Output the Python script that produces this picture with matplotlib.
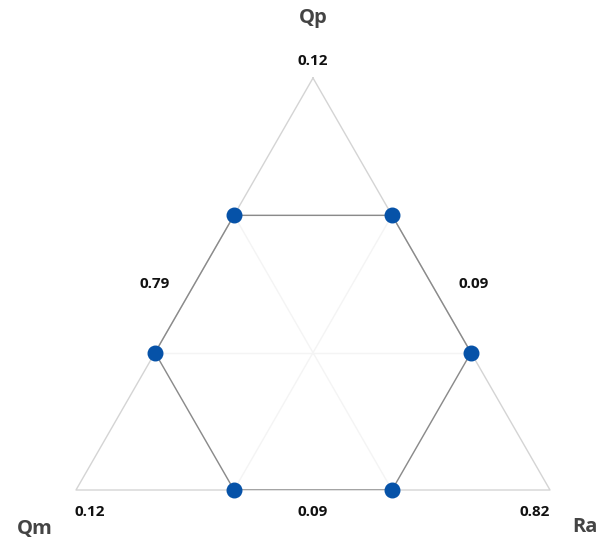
import numpy as np
import matplotlib.pyplot as plt

plt.rcParams['font.family'] = ['Open Sans', 'DejaVu Sans']

# ternary axes (vertex order: top, bottom-left, bottom-right)
axis_names = ['Qp', 'Qm', 'Ra']
vertex_values = ['0.12', '0.12', '0.82']
# edge labels: left edge, right edge, bottom edge
edge_values = ['0.79', '0.09', '0.09']

# hexagon points as (Qp, Qm, Ra) fractions
hex_qp = [2/3, 2/3, 1/3, 0, 0, 1/3]
hex_qm = [1/3, 0, 0, 1/3, 2/3, 2/3]
hex_ra = [0, 1/3, 2/3, 2/3, 1/3, 0]

grid_levels = [1/3, 2/3]

h = np.sqrt(3) / 2


def to_xy(qp, qm, ra):
    qp, qm, ra = np.asarray(qp), np.asarray(qm), np.asarray(ra)
    s = qp + qm + ra
    x = (0.5 * qp + 1.0 * ra) / s
    y = (h * qp) / s
    return x, y


fig = plt.figure(figsize=(6, 5.4), dpi=100)
ax = fig.add_axes([76/600, 50/540, 474/600, 412/540])
ax.set_xlim(0, 1)
ax.set_ylim(0, h)
ax.axis('off')

# faint grid
for lv in grid_levels:
    rest = 1 - lv
    for a, b in [((lv, rest, 0), (lv, 0, rest)),
                 ((rest, lv, 0), (0, lv, rest)),
                 ((rest, 0, lv), (0, rest, lv))]:
        xs, ys = to_xy([a[0], b[0]], [a[1], b[1]], [a[2], b[2]])
        ax.plot(xs, ys, color='#f4f4f4', lw=1, zorder=1)

# triangle outline
tx, ty = to_xy([1, 0, 0, 1], [0, 1, 0, 0], [0, 0, 1, 0])
ax.plot(tx, ty, color='#d4d4d4', lw=1, zorder=2, clip_on=False)

# hexagon
hx, hy = to_xy(hex_qp, hex_qm, hex_ra)
ax.plot(np.append(hx, hx[0]), np.append(hy, hy[0]), color='#8a8a8a', lw=1, zorder=3)
ax.scatter(hx, hy, s=110, color='#0652a8', zorder=4, clip_on=False)

# labels
vx, vy = to_xy([1, 0, 0], [0, 1, 0], [0, 0, 1])
num_style = dict(fontsize=11, fontweight='bold', color='#111111', ha='center', va='center')
name_style = dict(fontsize=14.5, fontweight='bold', color='#444444', ha='center', va='center')

ax.annotate(vertex_values[0], (vx[0], vy[0]), xytext=(0, 12), textcoords='offset points', **num_style)
ax.annotate(vertex_values[1], (vx[1], vy[1]), xytext=(10, -16), textcoords='offset points', **num_style)
ax.annotate(vertex_values[2], (vx[2], vy[2]), xytext=(-11, -16), textcoords='offset points', **num_style)

ax.annotate(axis_names[0], (vx[0], vy[0]), xytext=(0, 43), textcoords='offset points', **name_style)
ax.annotate(axis_names[1], (vx[1], vy[1]), xytext=(-30, -28), textcoords='offset points', **name_style)
ax.annotate(axis_names[2], (vx[2], vy[2]), xytext=(25, -27), textcoords='offset points', **name_style)

# edge labels near midpoints
mx, my = to_xy([0.5, 0.5, 0], [0.5, 0, 0.5], [0, 0.5, 0.5])
ax.annotate(edge_values[0], (mx[0], my[0]), xytext=(-29, 0), textcoords='offset points', **num_style)
ax.annotate(edge_values[1], (mx[1], my[1]), xytext=(30, 0), textcoords='offset points', **num_style)
ax.annotate(edge_values[2], (mx[2], my[2]), xytext=(0, -16), textcoords='offset points', **num_style)

fig.savefig('out.png', dpi=100)
